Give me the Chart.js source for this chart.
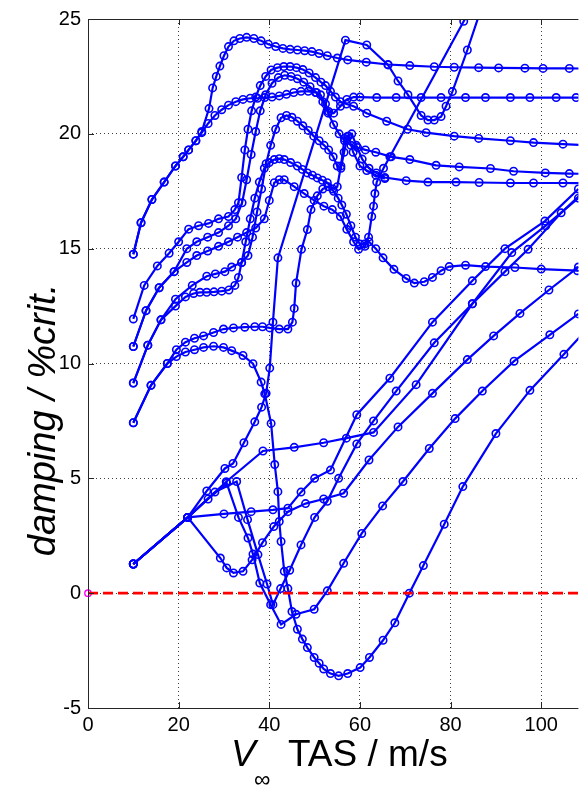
<!DOCTYPE html>
<html lang="en">
<head>
<meta charset="UTF-8" />
<title>Damping vs airspeed</title>
<script src="https://cdn.jsdelivr.net/npm/chart.js"></script>
<style>
  html, body { margin: 0; padding: 0; background: #ffffff; }
  .chart-box { position: relative; width: 584px; height: 788px; }
</style>
</head>
<body>
<div class="chart-box"><canvas id="vgChart"></canvas></div>
<script>
  // airspeed (m/s) and damping (% critical) for each tracked mode
  const speedU1 = [10, 11.7, 14.1, 16.8, 19.3, 21, 22.2, 23.8, 25.1, 26.7, 27.5, 28.3, 29.1, 30, 31, 32.2, 33.5, 35, 36.6, 38.2, 39.8, 41.4, 43, 44.6, 46.2, 47.8, 49.4, 51, 52.8, 55, 57.3, 61.4, 66.2, 71, 76.4, 80.8, 86.2, 90.6, 96.4, 100.4, 106.2, 111];
  const dampU1  = [14.76, 16.13, 17.14, 17.9, 18.6, 19.0, 19.3, 19.7, 20.1, 21.1, 22.0, 22.5, 22.95, 23.4, 23.8, 24.05, 24.15, 24.2, 24.15, 24.05, 23.9, 23.8, 23.72, 23.68, 23.65, 23.62, 23.58, 23.5, 23.4, 23.3, 23.22, 23.12, 23.02, 22.97, 22.92, 22.9, 22.88, 22.87, 22.86, 22.85, 22.85, 22.84];

  const speedU2 = [10, 11.7, 14.1, 16.8, 19.3, 21, 22.2, 23.8, 25.1, 26.5, 28, 29.5, 31, 32.6, 34.2, 35.8, 37.4, 39, 40.6, 42.2, 43.8, 45.4, 47, 48.6, 50.2, 51.3, 52.4, 53.1, 54.2, 55.7, 57.1, 58.6, 60, 63.7, 68, 73.5, 77.9, 83.3, 87.7, 93.2, 97.5, 103.3, 107.7, 112];
  const dampU2  = [14.76, 16.13, 17.14, 17.9, 18.6, 19.0, 19.3, 19.7, 20.05, 20.45, 20.8, 21.05, 21.25, 21.4, 21.5, 21.55, 21.55, 21.58, 21.6, 21.65, 21.72, 21.8, 21.85, 21.85, 21.8, 21.7, 21.3, 20.97, 20.9, 21.2, 21.5, 21.6, 21.6, 21.58, 21.58, 21.58, 21.58, 21.58, 21.58, 21.58, 21.58, 21.58, 21.58, 21.58];

  const speedU3 = [10, 12.4, 15.3, 17.9, 20, 22.2, 24.4, 26.6, 28.8, 31, 32.4, 33.2, 33.9, 34.6, 35.3, 36.1, 37, 38, 39.2, 40.4, 41.8, 43.2, 44.6, 46, 47.4, 48.8, 50.2, 51.4, 52.4, 53.5, 54.6, 55.7, 57, 58.6, 61.5, 65.9, 70.5, 74.6, 80.8, 86.2, 93.2, 98.3, 104.8, 110];
  const dampU3  = [11.94, 13.4, 14.25, 14.8, 15.3, 15.85, 16.0, 16.1, 16.3, 16.4, 16.7, 17.0, 18.1, 19.3, 20.2, 21.0, 21.6, 22.1, 22.5, 22.78, 22.88, 22.93, 22.93, 22.88, 22.8, 22.65, 22.45, 22.25, 22.1, 21.85, 21.6, 21.4, 21.3, 21.2, 20.9, 20.55, 20.2, 20.05, 19.9, 19.8, 19.7, 19.62, 19.55, 19.5];

  const speedU4 = [10, 12.8, 15.7, 19, 21.8, 24, 26.4, 28.8, 31, 32.6, 34, 35, 36, 37, 38, 39.2, 40.6, 42, 43.4, 44.8, 46.2, 47.6, 49, 50.4, 51.8, 53, 54.2, 55.4, 56.6, 58, 59.5, 61.2, 63.5, 66.9, 71, 76.8, 81.9, 88.8, 93.9, 100.9, 106.2, 111];
  const dampU4  = [10.74, 12.3, 13.3, 14.0, 15.0, 15.3, 15.5, 15.7, 16.0, 16.3, 17.0, 18.0, 19.1, 20.1, 21.0, 21.7, 22.2, 22.45, 22.55, 22.5, 22.4, 22.25, 22.05, 21.8, 21.4, 20.9, 20.4, 20.0, 19.7, 19.5, 19.4, 19.3, 19.2, 19.0, 18.88, 18.63, 18.56, 18.49, 18.37, 18.3, 18.27, 18.25];

  const speedU5 = [10, 13.2, 16.1, 19.3, 23, 26.2, 28.1, 30.2, 31.7, 33.9, 35.3, 36.3, 37.3, 38.3, 39.3, 40.3, 41.4, 42.6, 43.8, 45, 46.2, 47.4, 48.6, 49.8, 51, 52.1, 53.1, 54.1, 55, 55.8, 56.5, 57.3, 58.2, 59.2, 60.5, 62, 63.6, 65.5, 70.2, 75, 81.2, 86.3, 93.2, 98.3, 104.8, 110];
  const dampU5  = [9.15, 10.8, 11.9, 12.8, 13.4, 13.8, 13.9, 14.0, 14.2, 14.4, 14.7, 15.5, 16.6, 17.6, 18.7, 19.5, 20.2, 20.7, 20.8, 20.72, 20.55, 20.35, 20.15, 19.9, 19.7, 19.5, 19.3, 19.0, 18.6, 18.5, 19.2, 19.9, 20.0, 19.5, 18.9, 18.5, 18.3, 18.1, 17.96, 17.9, 17.9, 17.88, 17.86, 17.86, 17.86, 17.85];

  const speedU6 = [10, 13.2, 16.1, 19.3, 21.5, 23.3, 24.7, 26.2, 27.8, 29.5, 31.1, 32.4, 33.2, 33.9, 34.8, 35.8, 36.8, 37.8, 38.9, 40, 41.1, 42.2, 43.3, 44.7, 46.2, 47.3, 48.4, 49.5, 50.6, 51.7, 52.8, 54, 55, 55.8, 56.6, 57.5, 58.5, 60, 61.5, 63.5, 65.5];
  const dampU6  = [9.15, 10.8, 11.9, 12.5, 12.9, 13.05, 13.1, 13.1, 13.12, 13.15, 13.2, 13.4, 13.75, 14.4, 15.3, 16.3, 17.2, 17.9, 18.5, 18.75, 18.88, 18.92, 18.88, 18.75, 18.6, 18.45, 18.3, 18.2, 18.08, 17.98, 17.87, 17.6, 17.7, 18.6, 19.8, 19.9, 19.2, 18.6, 18.4, 18.2, 18.05];

  const speedU7 = [10, 12.8, 15.7, 19, 21.8, 24, 26.4, 28.8, 31, 33, 35, 37, 38.9, 40, 41.1, 42.2, 43.3, 45.5, 47.7, 49.9, 52.05, 53.9, 55.7, 57.1, 58.6, 59.7, 61.1, 61.9, 62.6, 63, 63.3, 63.7, 65.2, 66.6, 82.9, 86];
  const dampU7  = [10.74, 12.3, 13.3, 14.0, 14.4, 14.7, 14.9, 15.1, 15.3, 15.5, 15.7, 15.9, 16.3, 17.1, 17.87, 18.0, 18.0, 17.7, 17.4, 17.1, 16.85, 16.7, 16.4, 15.84, 15.3, 14.97, 15.1, 15.5, 16.4, 16.85, 17.4, 17.9, 18.5, 19.0, 24.9, 26.0];

  const speedU8 = [10, 13.9, 17.5, 19.5, 21.5, 23.5, 25.5, 27.7, 29.9, 32.1, 34.6, 36.8, 38.5, 40.1, 42.2, 44.1, 45.1, 45.5, 45.9, 47.1, 48.4, 49.2, 50.6, 51.8, 53, 54.2, 55.2, 56, 57, 58, 59, 60, 61, 62, 63.5, 65.1, 67.5, 70.2, 72, 74.2, 76, 77.9, 79.7, 83.3, 87.7, 94.2, 100, 108, 112];
  const dampU8  = [7.42, 9.05, 10.0, 10.6, 10.93, 11.1, 11.2, 11.35, 11.5, 11.55, 11.58, 11.6, 11.6, 11.55, 11.5, 11.5, 11.8, 12.4, 13.5, 14.97, 15.83, 16.7, 17.3, 17.6, 17.7, 17.5, 17.2, 16.9, 16.5, 16.0, 15.5, 15.2, 15.2, 15.3, 15.0, 14.6, 14.1, 13.7, 13.5, 13.56, 13.75, 14.04, 14.22, 14.28, 14.22, 14.18, 14.11, 14.04, 14.0];

  const speedL1 = [10, 22, 26.2, 30.2, 32, 34.4, 36.8, 38.3, 39.3, 40.1, 40.8, 41.9, 56.8, 61.5, 66.2, 68.4, 70.6, 73.5, 75, 76.4, 77.9, 79, 80.4, 83.7, 87];
  const dampL1  = [1.27, 3.3, 4.45, 5.43, 5.65, 6.55, 7.46, 8.1, 8.7, 9.8, 11.8, 14.6, 24.08, 23.87, 23.0, 22.3, 21.7, 20.8, 20.6, 20.6, 20.75, 21.2, 21.84, 23.65, 25.6];

  const speedL2 = [10, 13.9, 17.5, 19.5, 21.5, 23.5, 25.5, 27.7, 29.9, 31.7, 34.2, 36.4, 38.2, 39, 40.4, 41.2, 41.9, 42.2, 42.6, 43.3, 44.1, 45, 46.2, 47.3, 48.4, 49.9, 51, 52, 53.5, 55.3, 57.3, 60.05, 62.1, 65.1, 67.7, 70.9, 74, 78.6, 82.7, 90, 97.5, 105, 112];
  const dampL2  = [7.42, 9.05, 10.0, 10.3, 10.5, 10.6, 10.7, 10.75, 10.7, 10.56, 10.35, 9.99, 9.19, 8.68, 7.39, 5.6, 4.42, 3.12, 2.25, 0.95, 0.2, -0.8, -1.57, -2.0, -2.37, -2.8, -3.05, -3.3, -3.5, -3.6, -3.5, -3.24, -2.8, -2.05, -1.29, 0.0, 1.2, 3.0, 4.64, 6.95, 8.83, 10.4, 11.9];

  const speedL3 = [10, 22, 26.5, 30.6, 33.2, 35.3, 36.4, 37.9, 40.3, 42.6, 45.9, 49.9, 52.8, 56.4, 60.4, 65, 69.5, 75.3, 81, 87, 94, 101.9, 108.2, 112];
  const dampL3  = [1.27, 3.3, 4.1, 4.79, 3.3, 2.4, 1.7, 0.44, -0.5, -1.36, -0.92, -0.7, 0.1, 1.3, 2.6, 3.8, 4.86, 6.3, 7.6, 8.8, 10.1, 11.25, 12.16, 12.7];

  const speedL4 = [10, 22, 29.2, 30.6, 32.1, 34.2, 36.2, 38.5, 41, 44.1, 48, 52, 56.4, 62, 68.4, 76, 83.7, 89.5, 95.3, 101.7, 108.2, 112];
  const dampL4  = [1.27, 3.3, 1.53, 1.1, 0.88, 0.95, 1.45, 2.2, 2.9, 3.55, 3.9, 4.1, 4.35, 5.8, 7.24, 8.7, 10.17, 11.2, 12.18, 13.2, 14.2, 14.8];

  const speedL5 = [10, 22, 30, 36, 40.8, 44.1, 47, 50, 53.5, 59.3, 66.6, 76, 84.8, 92, 100.8, 108.2, 112];
  const dampL5  = [1.27, 3.3, 3.45, 3.55, 3.63, 3.7, 4.4, 5.0, 5.36, 7.77, 9.36, 11.8, 13.6, 15.0, 16.2, 17.6, 18.3];

  const speedL6 = [10, 22, 30.5, 38.6, 45.5, 52, 57, 63, 72.4, 84.8, 92, 97.1, 104.4, 110];
  const dampL6  = [1.27, 3.3, 4.85, 6.19, 6.35, 6.55, 6.75, 7.0, 9.08, 12.6, 14.0, 14.97, 16.56, 17.6];

  const speedL7 = [10, 22, 28, 32.8, 35.2, 37.5, 39.5, 40.8, 42.5, 44.5, 47, 50, 52.8, 55.3, 59.3, 63, 68, 76.4, 84.8, 93.5, 101, 108.2];
  const dampL7  = [1.27, 3.3, 4.4, 4.86, 3.2, 1.68, 0.4, -0.5, 0.2, 1.0, 2.1, 3.3, 4.0, 5.0, 6.5, 7.5, 8.8, 10.9, 12.6, 14.83, 16.0, 17.2];

  const modeSpeeds  = [speedU1, speedU2, speedU3, speedU4, speedU5, speedU6, speedU7, speedU8, speedL1, speedL2, speedL3, speedL4, speedL5, speedL6, speedL7];
  const modeDamping = [dampU1, dampU2, dampU3, dampU4, dampU5, dampU6, dampU7, dampU8, dampL1, dampL2, dampL3, dampL4, dampL5, dampL6, dampL7];

  const stabilitySpeed = [0, 112];
  const stabilityDamp  = [0, 0];
  const xTicks = [0, 20, 40, 60, 80, 100];

  const toPoints = (xs, ys) => xs.map((v, i) => ({ x: v, y: ys[i] }));

  const datasets = [{
    data: toPoints(stabilitySpeed, stabilityDamp),
    borderColor: '#ff0000',
    borderWidth: 2.8,
    borderDash: [10, 5],
    pointRadius: 0,
    order: 0
  }, {
    data: [{ x: 0, y: 0 }],
    pointRadius: 3.2,
    pointBorderWidth: 1.4,
    pointBorderColor: '#ff00ff',
    pointBackgroundColor: 'rgba(0,0,0,0)',
    showLine: false,
    clip: false,
    order: 0
  }];

  modeSpeeds.forEach((xs, i) => {
    datasets.push({
      data: toPoints(xs, modeDamping[i]),
      borderColor: '#0000ff',
      borderWidth: 2.2,
      pointRadius: 3.7,
      pointBorderWidth: 1.6,
      pointBorderColor: '#0000ff',
      pointBackgroundColor: 'rgba(0,0,0,0)',
      order: 1
    });
  });

  // MATLAB style box, inward ticks and axis labels
  const frameAndLabels = {
    id: 'frameAndLabels',
    afterDraw(chart) {
      const { ctx, chartArea: a, scales: { x, y } } = chart;
      ctx.save();
      ctx.strokeStyle = '#262626';
      ctx.lineWidth = 1;
      ctx.beginPath();
      ctx.moveTo(Math.round(a.left) + 0.5, a.top);
      ctx.lineTo(Math.round(a.left) + 0.5, a.bottom);
      ctx.moveTo(a.left, Math.round(a.bottom) + 0.5);
      ctx.lineTo(a.right, Math.round(a.bottom) + 0.5);
      ctx.moveTo(a.left, Math.round(a.top) + 0.5);
      ctx.lineTo(a.right, Math.round(a.top) + 0.5);
      xTicks.forEach(v => {
        const px = Math.round(x.getPixelForValue(v)) + 0.5;
        ctx.moveTo(px, a.bottom); ctx.lineTo(px, a.bottom - 6);
        ctx.moveTo(px, a.top); ctx.lineTo(px, a.top + 6);
      });
      for (let v = -5; v <= 25; v += 5) {
        const py = Math.round(y.getPixelForValue(v)) + 0.5;
        ctx.moveTo(a.left, py); ctx.lineTo(a.left + 6, py);
      }
      ctx.stroke();

      ctx.fillStyle = '#000000';
      ctx.textBaseline = 'alphabetic';
      ctx.textAlign = 'left';
      ctx.font = 'italic 37px "Liberation Sans", Arial, sans-serif';
      ctx.fillText('V', 231, 766);
      ctx.font = '23px "Liberation Sans", Arial, sans-serif';
      ctx.fillText('\u221E', 254, 787);
      ctx.font = '37px "Liberation Sans", Arial, sans-serif';
      ctx.fillText('TAS / m/s', 288, 766);

      ctx.translate(55, 420);
      ctx.rotate(-Math.PI / 2);
      ctx.textAlign = 'center';
      ctx.font = 'italic 38px "Liberation Sans", Arial, sans-serif';
      ctx.fillText('damping / %crit.', 0, 0);
      ctx.restore();
    }
  };

  new Chart(document.getElementById('vgChart'), {
    type: 'scatter',
    data: { datasets },
    options: {
      responsive: true,
      maintainAspectRatio: false,
      animation: false,
      events: [],
      showLine: true,
      elements: { line: { tension: 0 } },
      layout: { padding: { top: 15.5, right: 0, left: 0, bottom: 0 } },
      plugins: { legend: { display: false }, tooltip: { enabled: false } },
      scales: {
        x: {
          type: 'linear',
          min: 0,
          max: 108.2,
          afterBuildTicks: s => { s.ticks = xTicks.map(v => ({ value: v })); },
          afterFit: s => { s.height = 80; },
          ticks: { color: '#000000', padding: 5, maxRotation: 0, font: { family: '"Liberation Sans", Arial, sans-serif', size: 20 } },
          grid: { color: 'rgba(30,30,30,0.85)', lineWidth: 1, drawTicks: false },
          border: { display: false, dash: [1, 3] }
        },
        y: {
          type: 'linear',
          min: -5,
          max: 25,
          afterFit: s => { s.width = 88; },
          ticks: { stepSize: 5, color: '#000000', padding: 7, font: { family: '"Liberation Sans", Arial, sans-serif', size: 20 } },
          grid: { color: 'rgba(30,30,30,0.85)', lineWidth: 1, drawTicks: false },
          border: { display: false, dash: [1, 3] }
        }
      }
    },
    plugins: [frameAndLabels]
  });
</script>
</body>
</html>
